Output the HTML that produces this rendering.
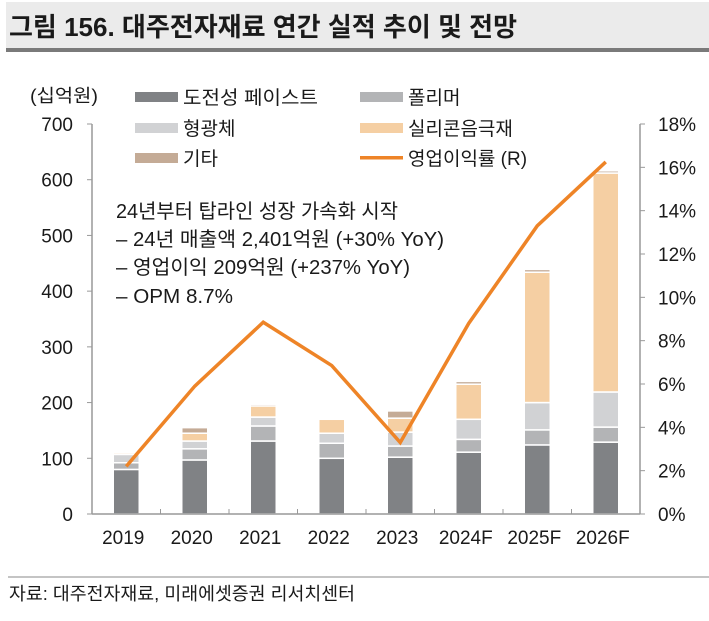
<!DOCTYPE html>
<html><head><meta charset="utf-8"><style>
body{margin:0;width:709px;height:616px;background:#fff;overflow:hidden;font-family:"Liberation Sans","Noto Sans CJK KR",sans-serif;}
svg text{font-family:"Liberation Sans","Noto Sans CJK KR",sans-serif;fill:#1a1a1a;}
</style></head><body>
<svg width="709" height="616">
<rect x="6" y="2" width="703" height="46" fill="#ebebeb"/>
<rect x="6" y="48" width="703" height="4" fill="#7a7a7a"/>
<text x="9" y="36" font-size="26" font-weight="bold" textLength="508" lengthAdjust="spacingAndGlyphs">그림 156. 대주전자재료 연간 실적 추이 및 전망</text>
<text x="30" y="102" font-size="18" textLength="68" lengthAdjust="spacingAndGlyphs">(십억원)</text>
<g id="legend">
<rect x="135" y="92" width="43" height="10" fill="#808285"/>
<text x="183" y="104" font-size="19" textLength="135" lengthAdjust="spacingAndGlyphs">도전성 페이스트</text>
<rect x="360" y="92" width="43" height="10" fill="#b3b4b6"/>
<text x="408" y="104" font-size="19">폴리머</text>
<rect x="135" y="123" width="43" height="10" fill="#d1d2d4"/>
<text x="183" y="135" font-size="19">형광체</text>
<rect x="360" y="123" width="43" height="10" fill="#f5cfa3"/>
<text x="408" y="135" font-size="19">실리콘음극재</text>
<rect x="135" y="153" width="43" height="10" fill="#c4ab96"/>
<text x="183" y="165" font-size="19">기타</text>
<rect x="360" y="156" width="43" height="3.5" fill="#ee8427"/>
<text x="408" y="165" font-size="19">영업이익률 (R)</text>
</g>
<g id="plot"></g>
<g>
<text x="116" y="218" font-size="20" textLength="282" lengthAdjust="spacingAndGlyphs">24년부터 탑라인 성장 가속화 시작</text>
<text x="116" y="246" font-size="20" textLength="328" lengthAdjust="spacingAndGlyphs">– 24년 매출액 2,401억원 (+30% YoY)</text>
<text x="116" y="274" font-size="20" textLength="294" lengthAdjust="spacingAndGlyphs">– 영업이익 209억원 (+237% YoY)</text>
<text x="116" y="303" font-size="20" textLength="117" lengthAdjust="spacingAndGlyphs">– OPM 8.7%</text>
</g>
<line x1="8" y1="577" x2="709" y2="577" stroke="#888" stroke-width="1"/>
<text x="9" y="600" font-size="18" textLength="346" lengthAdjust="spacingAndGlyphs">자료: 대주전자재료, 미래에셋증권 리서치센터</text>
</svg>
<script>
const categories=["2019","2020","2021","2022","2023","2024F","2025F","2026F"];
const conductive=[80,97,131,100,102,111,124,129];
const polymer=[12,20,27,27,20,23,27,27];
const phosphor=[15,14,16,18,25,36,49,63];
const silicon=[3,14,20,25,25,63,234,393];
const other=[2,10,3,0,13,5,5,4];
const opm=[2.2,5.9,8.85,6.85,3.3,8.8,13.3,16.25];
const leftTicks=[0,100,200,300,400,500,600,700];
const rightTicks=[0,2,4,6,8,10,12,14,16,18];

const NS="http://www.w3.org/2000/svg";
const g=document.getElementById('plot');
const X0=92,X1=640,Y0=514,Y1=124;
const band=(X1-X0)/categories.length;
const xc=i=>X0+band*(i+0.5);
const yL=v=>Y0-(v/700)*(Y0-Y1);
const yR=v=>Y0-(v/18)*(Y0-Y1);
function mk(t,a){const e=document.createElementNS(NS,t);for(const k in a)e.setAttribute(k,a[k]);g.appendChild(e);return e;}

let e;
e=mk('line',{x1:X0,y1:Y1,x2:X0,y2:Y0,stroke:'#999','stroke-width':1.5});


e=mk('line',{x1:X1,y1:Y1,x2:X1,y2:Y0,stroke:'#999','stroke-width':1.5});



leftTicks.forEach(v=>{
  const y=yL(v);
  e=mk('line',{x1:X0-5,y1:y,x2:X0,y2:y,stroke:'#999'});
  
  
  e=mk('text',{x:73,y:y+7,'font-size':19,'text-anchor':'end'});e.textContent=v;
  
  
});
rightTicks.forEach(v=>{
  const y=yR(v);
  e=mk('line',{x1:X1,y1:y,x2:X1+5,y2:y,stroke:'#999'});
  
  
  e=mk('text',{x:658,y:y+7,'font-size':19});e.textContent=v+'%';
  
  
});
for(let i=1;i<categories.length;i++){
  e=mk('line',{x1:X0+band*i,y1:Y0-5,x2:X0+band*i,y2:Y0,stroke:'#999'});
  
  
}
const series=[[conductive,'#808285','conductive'],[polymer,'#b3b4b6','polymer'],[phosphor,'#d1d2d4','phosphor'],[silicon,'#f5cfa3','silicon'],[other,'#c4ab96','other']];
categories.forEach((c,i)=>{
  let base=0;
  series.forEach(([arr,col,nm])=>{
    const v=arr[i];
    if(v>0){
      const yt=yL(base+v),yb=yL(base);
      e=mk('rect',{x:xc(i)-13,y:yt,width:26,height:Math.max(yb-yt,0.5),fill:col,stroke:'#fff','stroke-width':1.5});
      
      
    }
    base+=v;
  });
  e=mk('text',{x:xc(i)-3,y:544,'font-size':19,'text-anchor':'middle'});e.textContent=c;
  
  
});
e=mk('line',{x1:X0,y1:Y0,x2:X1,y2:Y0,stroke:'#999','stroke-width':1.5});


e=mk('polyline',{points:opm.map((v,i)=>xc(i)+','+yR(v)).join(' '),fill:'none',stroke:'#ee8427','stroke-width':3.5,'stroke-linejoin':'miter'});


</script>
</body></html>
